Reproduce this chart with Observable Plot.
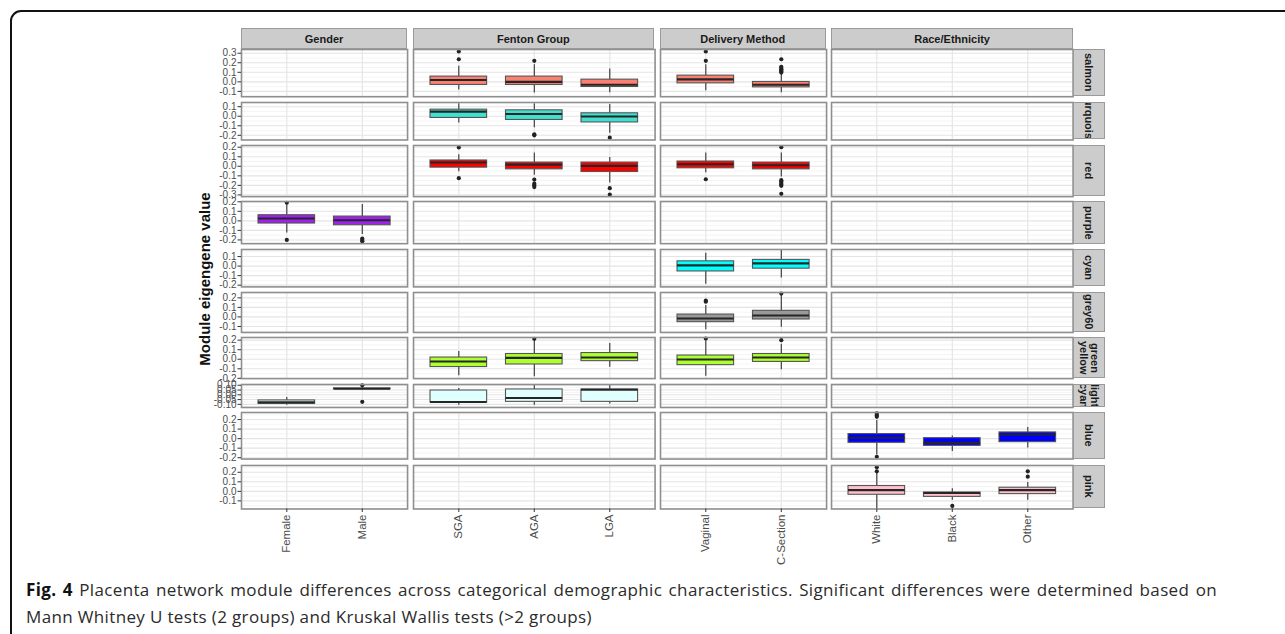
<!DOCTYPE html>
<html>
<head>
<meta charset="utf-8">
<script src="https://cdn.jsdelivr.net/npm/d3@7"></script>
<script src="https://cdn.jsdelivr.net/npm/@observablehq/plot@0.6"></script>
<style>
  body { margin: 0; background: #fff; }
  #fig { position: relative; width: 1285px; height: 634px; overflow: hidden; font-family: "Liberation Sans", Arial, sans-serif; background: #fff; }
  .frame-border { position: absolute; left: 10px; top: 10px; width: 1320px; height: 640px; border: 2px solid #111; border-radius: 11px; box-sizing: border-box; }
  .strip { position: absolute; background: #cccccc; border: 1px solid #9a9a9a; box-sizing: border-box; display: flex; align-items: center; justify-content: center; overflow: hidden; font-weight: bold; font-size: 11px; color: #1a1a1a; white-space: pre; }
  .strip.right { writing-mode: vertical-rl; line-height: 1.0; text-align: center; }
  .panel { position: absolute; overflow: visible; }
  .ytitle { position: absolute; font-weight: bold; font-size: 15px; color: #111; white-space: nowrap; transform: translate(-50%, -50%) rotate(-90deg); }
  .caption { position: absolute; left: 26px; top: 577px; width: 1191px; font-family: "Open Sans", Lato, sans-serif; font-size: 17px; letter-spacing: 0.35px; line-height: 26.7px; color: #2b2b2b; white-space: nowrap; }
  .caption .l1 { text-align: justify; text-align-last: justify; }
  .caption b { color: #111; }
</style>
</head>
<body>
<div id="fig">
  <div class="frame-border"></div>
</div>
<script>
// Facet columns and their categories
const facetNames = ["Gender", "Fenton Group", "Delivery Method", "Race/Ethnicity"];
const facetLevels = [
  ["Female", "Male"],
  ["SGA", "AGA", "LGA"],
  ["Vaginal", "C-Section"],
  ["White", "Black", "Other"]
];

// Module rows
const modules = ["salmon", "turquoise", "red", "purple", "cyan", "grey60", "greenyellow", "lightcyan", "blue", "pink"];
const moduleStrip = ["salmon", "turquoise", "red", "purple", "cyan", "grey60", "green\nyellow", "light\ncyan", "blue", "pink"];
const moduleFill = ["#FA8072", "#40E0D0", "#FF0000", "#A020F0", "#00FFFF", "#999999", "#ADFF2F", "#E0FFFF", "#0000FF", "#FFC0CB"];
const yLimits = [
  [-0.156, 0.339], [-0.249, 0.144], [-0.318, 0.218], [-0.239, 0.203], [-0.218, 0.174],
  [-0.163, 0.256], [-0.203, 0.228], [-0.133, 0.108], [-0.214, 0.274], [-0.185, 0.271]
];
const yTickStep = [0.1, 0.1, 0.1, 0.1, 0.1, 0.1, 0.1, 0.05, 0.1, 0.1];

// Box summaries per module: [group, lower whisker, Q1, median, Q3, upper whisker, outliers]
const salmon = [
  ["SGA", -0.085, -0.033, 0.020, 0.055, 0.163, [0.318, 0.237]],
  ["AGA", -0.117, -0.033, 0.000, 0.055, 0.178, [0.220]],
  ["LGA", -0.114, -0.054, -0.030, 0.023, 0.135, []],
  ["Vaginal", -0.093, -0.016, 0.026, 0.065, 0.178, [0.318, 0.220]],
  ["C-Section", -0.114, -0.058, -0.030, -0.001, 0.083, [0.237, 0.158, 0.145, 0.132, 0.120, 0.108, 0.097]]
];
const turquoise = [
  ["SGA", -0.070, -0.018, 0.048, 0.069, 0.131, []],
  ["AGA", -0.121, -0.039, 0.024, 0.062, 0.131, [-0.190, -0.200]],
  ["LGA", -0.179, -0.065, -0.003, 0.031, 0.124, [-0.225]]
];
const red = [
  ["SGA", -0.057, -0.014, 0.039, 0.061, 0.122, [0.197, -0.125]],
  ["AGA", -0.093, -0.032, 0.018, 0.039, 0.140, [-0.139, -0.182, -0.200, -0.218]],
  ["LGA", -0.175, -0.060, 0.004, 0.039, 0.093, [-0.229, -0.296]],
  ["Vaginal", -0.068, -0.021, 0.022, 0.050, 0.140, [-0.136]],
  ["C-Section", -0.111, -0.032, 0.011, 0.039, 0.140, [0.200, -0.146, -0.160, -0.175, -0.190, -0.205, -0.289]]
];
const purple = [
  ["Female", -0.126, -0.028, 0.024, 0.059, 0.170, [0.190, -0.200]],
  ["Male", -0.144, -0.046, 0.006, 0.045, 0.172, [-0.186, -0.200, -0.215]]
];
const cyan = [
  ["Vaginal", -0.190, -0.056, 0.008, 0.050, 0.135, []],
  ["C-Section", -0.126, -0.027, 0.029, 0.065, 0.167, []]
];
const grey60 = [
  ["Vaginal", -0.135, -0.055, -0.017, 0.025, 0.119, [0.170, 0.160]],
  ["C-Section", -0.107, -0.027, 0.015, 0.064, 0.230, [0.245]]
];
const greenyellow = [
  ["SGA", -0.172, -0.082, -0.023, 0.018, 0.080, []],
  ["AGA", -0.183, -0.055, 0.014, 0.055, 0.200, [0.214]],
  ["LGA", -0.085, -0.020, 0.018, 0.065, 0.166, []],
  ["Vaginal", -0.179, -0.062, -0.003, 0.039, 0.190, [0.217]],
  ["C-Section", -0.110, -0.028, 0.018, 0.055, 0.156, [0.200]]
];
const lightcyan = [
  ["Female", -0.110, -0.096, -0.078, -0.059, -0.027, []],
  ["Male", 0.050, 0.060, 0.064, 0.067, 0.095, [0.100, -0.074]],
  ["SGA", -0.110, -0.081, -0.075, 0.045, 0.067, []],
  ["AGA", -0.110, -0.074, -0.034, 0.056, 0.100, []],
  ["LGA", -0.097, -0.074, 0.053, 0.056, 0.105, []]
];
const blue = [
  ["White", -0.172, -0.044, 0.009, 0.048, 0.190, [0.264, 0.245, 0.229, -0.190]],
  ["Black", -0.136, -0.076, -0.044, 0.005, 0.027, []],
  ["Other", -0.097, -0.037, 0.044, 0.065, 0.118, []]
];
const pink = [
  ["White", -0.180, -0.036, 0.013, 0.056, 0.190, [0.253, 0.210]],
  ["Black", -0.093, -0.058, -0.018, -0.012, 0.027, [-0.153]],
  ["Other", -0.093, -0.029, 0.013, 0.038, 0.094, [0.210, 0.154]]
];
const boxesByModule = [salmon, turquoise, red, purple, cyan, grey60, greenyellow, lightcyan, blue, pink];

// Grid geometry: panel widths follow category counts, heights follow y ranges
const unitPx = 75.5, colGap = 5.5, rowGap = 5.5, yPx = 95.4;
const left0 = 241, top0 = 49, stripH = 21, stripW = 32;
const colW = facetLevels.map(l => (l.length + 0.2) * unitPx);
const colX = [];
{ let x = left0; colW.forEach(w => { colX.push(x); x += w + colGap; }); }
const rowH = yLimits.map(([a, b]) => (b - a) * yPx);
const rowY = [];
{ let y = top0; rowH.forEach(h => { rowY.push(y); y += h + rowGap; }); }

const fig = document.getElementById("fig");

function ticksFor(lo, hi, step) {
  return d3.range(Math.ceil(lo / step - 1e-9), Math.floor(hi / step + 1e-9) + 1).map(i => +(i * step).toFixed(4));
}

function panel(r, c) {
  const levels = facetLevels[c];
  const [lo, hi] = yLimits[r];
  const step = yTickStep[r];
  const major = ticksFor(lo, hi, step);
  const minor = ticksFor(lo, hi, step / 2).filter(v => !major.some(m => Math.abs(m - v) < 1e-6));
  const rows = boxesByModule[r].filter(d => levels.includes(d[0]));
  const stats = rows.map(d => ({level: d[0], lo: d[1], q1: d[2], med: d[3], q3: d[4], hi: d[5]}));
  const outs = rows.flatMap(d => d[6].map(v => ({level: d[0], v})));
  const isLeft = c === 0, isBottom = r === modules.length - 1;
  const ml = isLeft ? 45 : 0, mb = isBottom ? 62 : 0;
  const marks = [
    Plot.ruleY(minor, {stroke: "#f1f1f1", strokeWidth: 0.7}),
    Plot.ruleY(major, {stroke: "#e4e4e4", strokeWidth: 1.1}),
    Plot.ruleX(levels, {stroke: "#e4e4e4", strokeWidth: 1.1}),
    Plot.ruleX(stats, {x: "level", y1: "lo", y2: "q1", stroke: "#333", strokeWidth: 1.1}),
    Plot.ruleX(stats, {x: "level", y1: "q3", y2: "hi", stroke: "#333", strokeWidth: 1.1}),
    Plot.barY(stats, {x: "level", y1: "q1", y2: "q3", fill: moduleFill[r], stroke: "#555", strokeWidth: 1.1}),
    Plot.tickY(stats, {x: "level", y: "med", stroke: "#262626", strokeWidth: 2.1}),
    Plot.dot(outs, {x: "level", y: "v", r: 2.1, fill: "#222", stroke: "none"}),
    Plot.frame({stroke: "#8f8f8f", strokeWidth: 1.6})
  ];
  if (isLeft) {
    marks.push(Plot.axisY(major, {
      tickFormat: d => d.toFixed(step < 0.1 ? 2 : 1), label: null,
      tickSize: 3.5, tickPadding: 1.5, fontSize: 10, stroke: "#333", fill: "#4d4d4d"
    }));
  }
  if (isBottom) {
    marks.push(Plot.axisX({
      tickRotate: -90, tickSize: 3.5, tickPadding: 2, fontSize: 11.5, label: null, stroke: "#333", fill: "#4d4d4d"
    }));
  }
  const svg = Plot.plot({
    width: colW[c] + ml,
    height: rowH[r] + mb,
    marginLeft: ml, marginRight: 0, marginTop: 0, marginBottom: mb,
    x: {type: "band", domain: levels, paddingInner: 0.25, paddingOuter: 0.225, align: 0.5, round: false, label: null,
        ...(isBottom ? {} : {axis: null})},
    y: {domain: [lo, hi], label: null, ...(isLeft ? {} : {axis: null})},
    style: {background: "transparent", fontFamily: "Liberation Sans, Arial, sans-serif", color: "#4d4d4d", overflow: "visible"},
    marks
  });
  svg.classList.add("panel");
  svg.style.left = (colX[c] - ml) + "px";
  svg.style.top = rowY[r] + "px";
  fig.appendChild(svg);
}

for (let r = 0; r < modules.length; ++r) {
  for (let c = 0; c < facetNames.length; ++c) panel(r, c);
}

// Column strips on top
facetNames.forEach((name, c) => {
  const s = document.createElement("div");
  s.className = "strip";
  s.style.left = colX[c] + "px";
  s.style.top = (top0 - stripH) + "px";
  s.style.width = colW[c] + "px";
  s.style.height = stripH + "px";
  s.textContent = name;
  fig.appendChild(s);
});

// Row strips on the right
const rightX = colX[colX.length - 1] + colW[colW.length - 1];
moduleStrip.forEach((name, r) => {
  const s = document.createElement("div");
  s.className = "strip right";
  s.style.left = rightX + "px";
  s.style.top = rowY[r] + "px";
  s.style.width = stripW + "px";
  s.style.height = rowH[r] + "px";
  s.textContent = name;
  fig.appendChild(s);
});

// Shared y-axis title
const yt = document.createElement("div");
yt.className = "ytitle";
yt.textContent = "Module eigengene value";
yt.style.left = "204px";
yt.style.top = ((rowY[0] + rowY[rowY.length - 1] + rowH[rowH.length - 1]) / 2) + "px";
fig.appendChild(yt);

// Figure caption (first line justified to the column width)
const cap = document.createElement("div");
cap.className = "caption";
cap.innerHTML =
  "<div class=\"l1\"><b>Fig. 4</b> Placenta network module differences across categorical demographic characteristics. Significant differences were determined based on</div>" +
  "<div>Mann Whitney U tests (2 groups) and Kruskal Wallis tests (&gt;2 groups)</div>";
fig.appendChild(cap);
</script>
</body>
</html>
